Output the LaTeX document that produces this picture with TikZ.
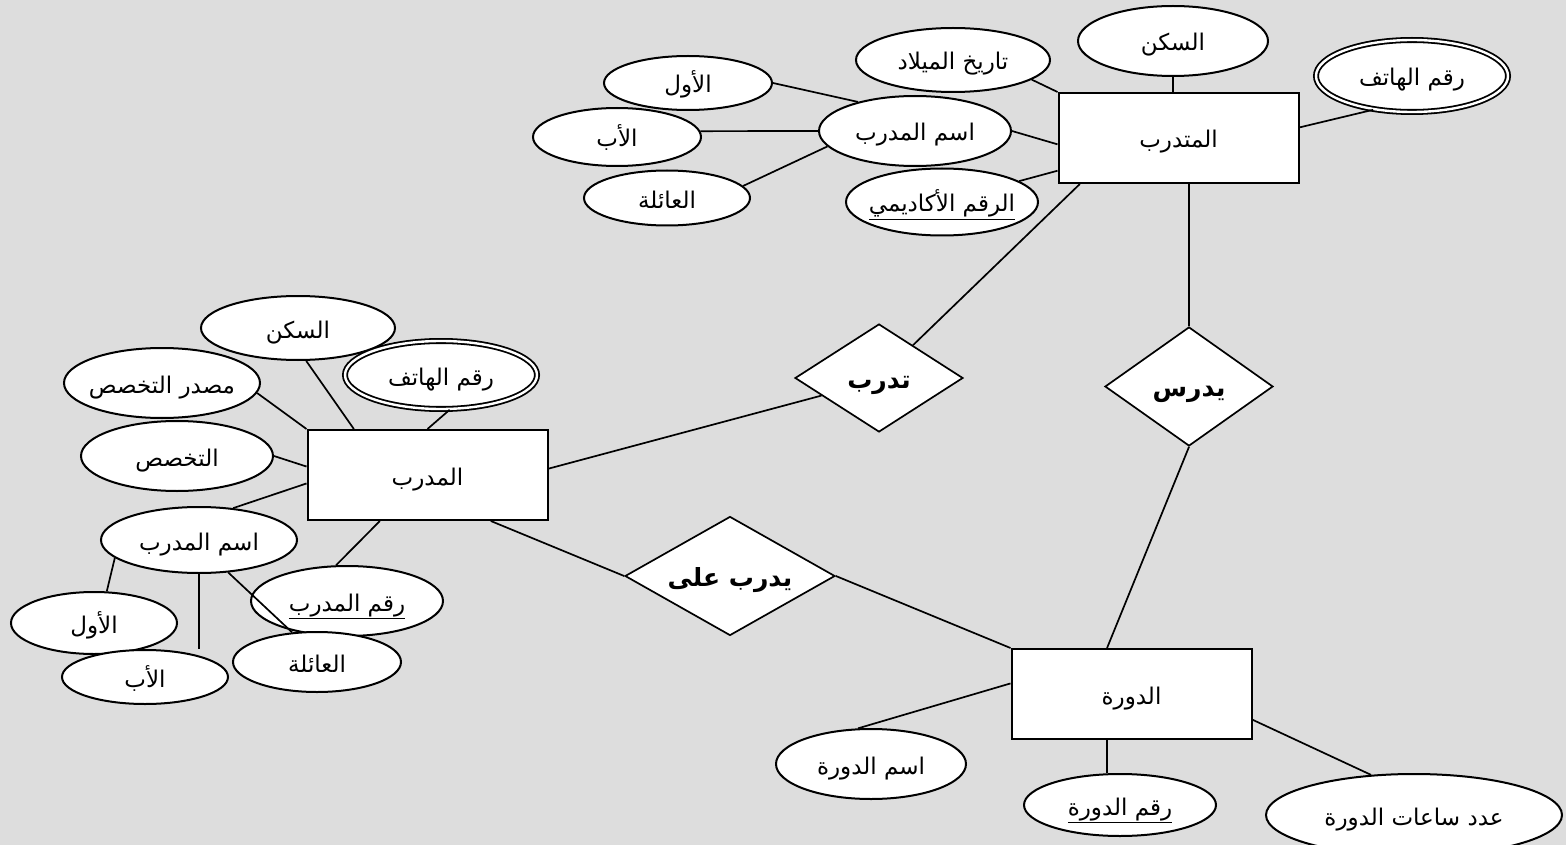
\documentclass[tikz,border=0pt]{standalone}
\usepackage{fontspec}
\newfontfamily\arabicfont[Script=Arabic]{DejaVu Sans}
\TeXXeTstate=1
\usetikzlibrary{shapes.geometric,calc}
\newcommand{\artx}[1]{\raisebox{-10pt}[0pt][0pt]{\makebox[0pt]{\arabicfont\beginR #1\endR}}}
\newcommand{\aru}[1]{\raisebox{-10pt}[0pt][0pt]{\makebox[0pt]{\underline{\hbox{\arabicfont\beginR #1\endR}}}}}
\definecolor{bgc}{RGB}{221,221,221}
\tikzset{
  attr/.style={ellipse, draw=black, fill=white, line width=2pt, inner sep=0pt,
    font=\fontsize{23}{27}\selectfont},
  multi/.style={attr, double=white, double distance=2.4pt, line width=1.8pt},
  ent/.style={rectangle, draw=black, fill=white, line width=2pt, inner sep=0pt,
    minimum width=240pt, minimum height=90pt, font=\fontsize{23}{27}\selectfont},
  rel/.style={diamond, draw=black, fill=white, line width=1.7pt, inner sep=0pt,
    font=\fontsize{25}{29}\selectfont\bfseries},
  conn/.style={draw=black, line width=1.7pt},
}
\begin{document}
\begin{tikzpicture}[x=1pt,y=-1pt]
\useasboundingbox (0,0) rectangle (1566,845);
\fill[bgc] (0,0) rectangle (1566,845);

% ---- top entity
\node[ent] (mt) at (1178.5,138) {\artx{المتدرب}};
\node[attr, minimum width=190pt, minimum height=70pt] (sk1) at (1173,41) {\artx{السكن}};
\node[multi, minimum width=192pt, minimum height=72pt] (ph1) at (1412,76) {\artx{رقم الهاتف}};
\node[attr, minimum width=194pt, minimum height=64pt] (tar) at (953,60) {\artx{تاريخ الميلاد}};
\node[attr, minimum width=192pt, minimum height=70pt] (ism1) at (915,131) {\artx{اسم المدرب}};
\node[attr, minimum width=192pt, minimum height=67pt] (rq1) at (942,202) {\aru{الرقم الأكاديمي}};
\node[attr, minimum width=168pt, minimum height=54pt] (aw1) at (688,83) {\artx{الأول}};
\node[attr, minimum width=168pt, minimum height=58pt] (ab1) at (617,137) {\artx{الأب}};
\node[attr, minimum width=166pt, minimum height=55pt] (ail1) at (667,198) {\artx{العائلة}};

% ---- relationships
\node[rel, minimum width=168pt, minimum height=108pt] (tdr) at (879,378) {\artx{تدرب}};
\node[rel, minimum width=168pt, minimum height=119pt] (ydrs) at (1189,386.5) {\artx{يدرس}};
\node[rel, minimum width=210pt, minimum height=119pt] (ydr) at (730,576) {\artx{يدرب على}};

% ---- left entity
\node[ent] (mdr) at (427.5,475) {\artx{المدرب}};
\node[attr, minimum width=194pt, minimum height=64pt] (sk2) at (298,328) {\artx{السكن}};
\node[multi, minimum width=192pt, minimum height=68pt] (ph2) at (441,375) {\artx{رقم الهاتف}};
\node[attr, minimum width=196pt, minimum height=70pt] (msd) at (162,383) {\artx{مصدر التخصص}};
\node[attr, minimum width=192pt, minimum height=70pt] (tk) at (177,456) {\artx{التخصص}};
\node[attr, minimum width=196pt, minimum height=66pt] (ism2) at (199,540) {\artx{اسم المدرب}};
\node[attr, minimum width=192pt, minimum height=70pt] (rqm) at (347,601) {\aru{رقم المدرب}};
\node[attr, minimum width=166pt, minimum height=62pt] (aw2) at (94,623) {\artx{الأول}};
\node[attr, minimum width=166pt, minimum height=54pt] (ab2) at (145,677) {\artx{الأب}};
\node[attr, minimum width=168pt, minimum height=60pt] (ail2) at (317,662) {\artx{العائلة}};

% ---- bottom entity
\node[ent] (dwr) at (1131.5,694) {\artx{الدورة}};
\node[attr, minimum width=190pt, minimum height=70pt] (ismd) at (871,764) {\artx{اسم الدورة}};
\node[attr, minimum width=192pt, minimum height=62pt] (rqd) at (1120,805) {\aru{رقم الدورة}};
\node[attr, minimum width=296pt, minimum height=82pt] (ads) at (1414,815) {\artx{عدد ساعات الدورة}};

% ---- connectors (top)
\draw[conn] (tar.-14) -- (mt.north west);
\draw[conn] (sk1.south) -- (sk1.south |- mt.north);
\draw[conn] (ph1.221) -- (mt.5);
\draw[conn] (ism1.east) -- (mt.183);
\draw[conn] (rq1) -- (mt);
\draw[conn] (aw1.east) -- (ism1.153);
\draw[conn] (ab1.4) -- (ism1.west);
\draw[conn] (ail1.9) -- (ism1.190);
\draw[conn] (mt.205) -- (tdr.44);
\draw[conn] (ydrs.north |- mt.south) -- (ydrs.north);
\draw[conn] (ydrs.south) -- (dwr.118);

% ---- connectors (left)
\draw[conn] (mdr.3) -- (tdr.197);
\draw[conn] (mdr.-36) -- (ydr.west);
\draw[conn] (ydr.east) -- (dwr.north west);
\draw[conn] (sk2.-76) -- (mdr.148);
\draw[conn] (msd.-6) -- (mdr.north west);
\draw[conn] (tk.east) -- (mdr.176);
\draw[conn] (ism2.43) -- (mdr.184);
\draw[conn] (mdr.224) -- (rqm.107);
\draw[conn] (ph2.-76) -- (mdr.north);
\draw[conn] (ism2.192) -- (aw2.68);
\draw[conn] (ism2.south) -- (ism2.south |- ab2.north);
\draw[conn] (ism2.-48) -- (ail2.130);

% ---- connectors (bottom)
\draw[conn] (dwr.175) -- (ismd.110);
\draw[conn] (dwr.242) -- (dwr.242 |- rqd.north);
\draw[conn] (dwr.-12) -- (ads.137);
\end{tikzpicture}
\end{document}
